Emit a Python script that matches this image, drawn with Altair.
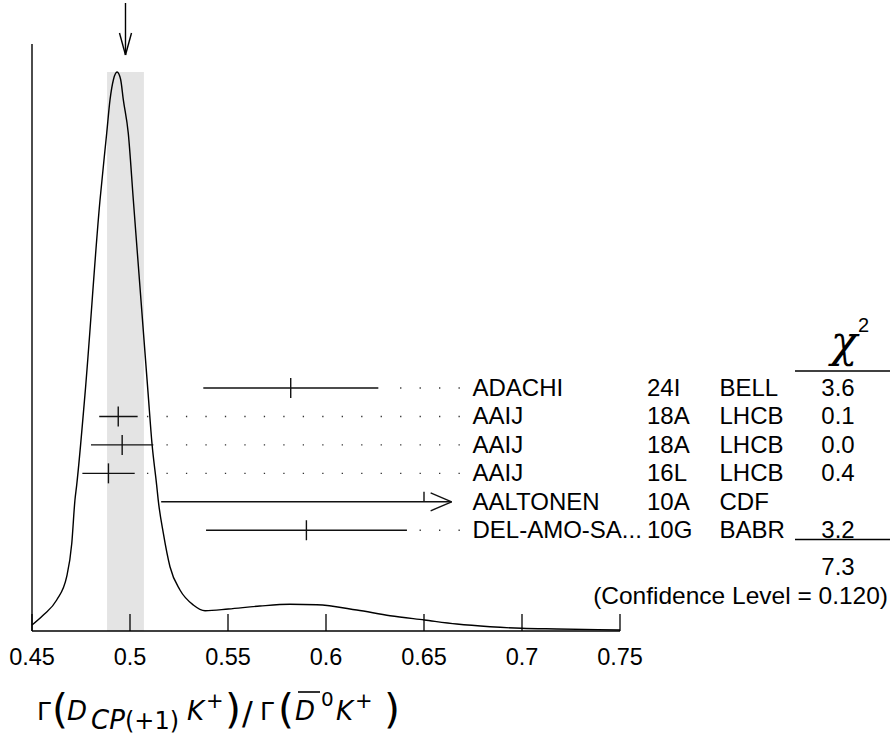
import altair as alt
import pandas as pd

# ---------------- data ----------------
names = ["ADACHI", "AAIJ", "AAIJ", "AAIJ", "AALTONEN", "DEL-AMO-SA..."]
years = ["24I", "18A", "18A", "16L", "10A", "10G"]
expts = ["BELL", "LHCB", "LHCB", "LHCB", "CDF", "BABR"]
values = [0.582, 0.494, 0.496, 0.489, 0.650, 0.590]
lows = [0.5374, 0.4843, 0.4801, 0.4757, 0.5159, 0.5388]
highs = [0.6267, 0.5039, 0.5119, 0.5024, 0.6641, 0.6413]
offscale = [False, False, False, False, True, False]
chi2 = ["3.6", "0.1", "0.0", "0.4", "", "3.2"]
chi2_total = "7.3"
conf_level = "(Confidence Level = 0.120)"

fit_value = 0.4977
fit_error = 0.0094

# ideogram curve (relative height, peak = 1)
ideo_x = [0.4500, 0.4558, 0.4626, 0.4677, 0.4703, 0.4719, 0.4728, 0.4770,
          0.4847, 0.4881, 0.4898, 0.4916, 0.4934, 0.4952, 0.4966, 0.4991,
          0.5017, 0.5093, 0.5112, 0.5136, 0.5144, 0.5170, 0.5204, 0.5255,
          0.5323, 0.5383, 0.5502, 0.5663, 0.5816, 0.5953, 0.6157, 0.6327,
          0.6502, 0.6667, 0.6837, 0.6998, 0.7177, 0.7500]
ideo_y = [0.0107, 0.0286, 0.0555, 0.0971, 0.157, 0.234, 0.261, 0.422,
          0.771, 0.890, 0.950, 0.987, 1.000, 0.987, 0.950, 0.891,
          0.771, 0.422, 0.336, 0.261, 0.234, 0.175, 0.115, 0.0733,
          0.0465, 0.0363, 0.0394, 0.0447, 0.0478, 0.0470, 0.0376, 0.0274,
          0.0197, 0.0125, 0.0077, 0.0048, 0.0036, 0.0018]

tick_values = [0.45, 0.5, 0.55, 0.6, 0.65, 0.7, 0.75]
tick_labels = ["0.45", "0.5", "0.55", "0.6", "0.65", "0.7", "0.75"]

# ---------------- layout (pixels) ----------------
W, H = 890, 734
X_PX0, X_PX1 = 32.0, 620.0      # pixel of 0.45 and of 0.75
Y_BASE, Y_PEAK = 631.0, 72.0    # pixel of zero and of the curve peak
PEAK = max(ideo_y)
ROW0, ROW_STEP = 388.0, 28.45
FONT = "Liberation Sans"
TXT = 24


def xd(px):
    return 0.45 + (px - X_PX0) * 0.30 / (X_PX1 - X_PX0)


def yd(py):
    return (Y_BASE - py) / (Y_BASE - Y_PEAK) * PEAK


DX = 0.30 / (X_PX1 - X_PX0)    # data units per pixel
xs = alt.Scale(domain=[xd(0), xd(W)], nice=False, zero=False)
ys = alt.Scale(domain=[yd(H), yd(0)], nice=False, zero=False)


def X(f):
    return alt.X(f, type="quantitative", scale=xs, axis=None)


def Y(f):
    return alt.Y(f, type="quantitative", scale=ys, axis=None)


# shaded band of the fit
band_df = pd.DataFrame({"x": [fit_value - fit_error], "x2": [fit_value + fit_error],
                        "y": [0.0], "y2": [PEAK]})
band = alt.Chart(band_df).mark_rect(color="#e4e4e4").encode(
    x=X("x"), x2="x2", y=Y("y"), y2="y2")

curve_df = pd.DataFrame({"x": ideo_x, "y": ideo_y})
curve = alt.Chart(curve_df).mark_line(color="black", strokeWidth=1.4,
                                      interpolate="monotone").encode(x=X("x"), y=Y("y"))

# axes
yaxis = alt.Chart(pd.DataFrame({"x": [tick_values[0]], "y": [0.0], "y2": [yd(44)]})).mark_rule(
    color="black", strokeWidth=1.4).encode(x=X("x"), y=Y("y"), y2="y2")
xaxis = alt.Chart(pd.DataFrame({"x": [tick_values[0]], "x2": [tick_values[-1]], "y": [0.0]})).mark_rule(
    color="black", strokeWidth=1.4).encode(x=X("x"), x2="x2", y=Y("y"))
ticks_df = pd.DataFrame({"x": tick_values, "lab": tick_labels, "y": 0.0, "y2": yd(614),
                         "ly": yd(665)})
ticks = alt.Chart(ticks_df).mark_rule(color="black", strokeWidth=1.3).encode(
    x=X("x"), y=Y("y"), y2="y2")
tick_text = alt.Chart(ticks_df).mark_text(font=FONT, fontSize=23.5, baseline="alphabetic",
                                          align="center", color="black").encode(
    x=X("x"), y=Y("ly"), text="lab:N")

# measurements
rows = pd.DataFrame({"name": names, "year": years, "expt": expts, "val": values,
                     "lo": lows, "hi": highs, "off": offscale, "chi": chi2})
rows["py"] = [ROW0 + ROW_STEP * i for i in range(len(rows))]
rows["y"] = rows["py"].map(yd)
rows["ttop"] = (rows["py"] - 10).map(yd)
rows["tbot"] = [yd(p) if o else yd(p + 10) for p, o in zip(rows["py"], rows["off"])]
rows["dot_start"] = xd(459.8)
rows["dot_end"] = rows["hi"] + 8 * DX
rows["xname"] = xd(472.5)
rows["xyear"] = xd(647)
rows["xexp"] = xd(719.5)
rows["xchi"] = xd(838)

bars = alt.Chart(rows).mark_rule(color="#111", strokeWidth=1.4).encode(
    x=X("lo"), x2="hi", y=Y("y"))
cticks = alt.Chart(rows).mark_rule(color="#111", strokeWidth=1.4).encode(
    x=X("val"), y=Y("ttop"), y2="tbot")

off = rows[rows["off"]].copy()
heads = pd.concat([
    off.assign(hx=off["hi"], hx2=off["hi"] - 21 * DX, hy=off["y"], hy2=(off["py"] - 9).map(yd)),
    off.assign(hx=off["hi"], hx2=off["hi"] - 21 * DX, hy=off["y"], hy2=(off["py"] + 9).map(yd)),
])
arrowheads = alt.Chart(heads).mark_rule(color="#111", strokeWidth=1.4).encode(
    x=X("hx"), x2="hx2", y=Y("hy"), y2="hy2")

dots = alt.Chart(rows[~rows["off"]]).mark_rule(
    color="#333", strokeWidth=1.4, strokeDash=[1.3, 18.17], strokeCap="butt").encode(
    x=X("dot_start"), x2="dot_end", y=Y("y"))


def col(field, xf, align="left"):
    return alt.Chart(rows).mark_text(font=FONT, fontSize=TXT, align=align,
                                     baseline="alphabetic", dy=8, color="black").encode(
        x=X(xf), y=Y("y"), text=f"{field}:N")


t_name = col("name", "xname")
t_year = col("year", "xyear")
t_exp = col("expt", "xexp")
t_chi = col("chi", "xchi", "center")


# chi2 header / summary
def prule(x1, x2, py, w=1.3):
    return alt.Chart(pd.DataFrame({"x": [xd(x1)], "x2": [xd(x2)], "y": [yd(py)]})).mark_rule(
        color="black", strokeWidth=w).encode(x=X("x"), x2="x2", y=Y("y"))


def ptext(s, px, py, size, align="left", font=FONT, style="normal"):
    return alt.Chart(pd.DataFrame({"x": [xd(px)], "y": [yd(py)], "t": [s]})).mark_text(
        font=font, fontSize=size, align=align, baseline="alphabetic", fontStyle=style,
        color="black").encode(x=X("x"), y=Y("y"), text="t:N")


chi_head = ptext("χ", 844, 357, 44, "center", "DejaVu Serif", "italic")
chi_sup = ptext("2", 858, 332, 20)
line1 = prule(795, 890, 371)
line2 = prule(795, 890, 539.5)
tot = ptext(chi2_total, 838, 575, TXT, "center")
cl = ptext(conf_level, 888, 604, 24.5, "right")

# arrow marking the fit value
arr_df = pd.DataFrame({"x": [fit_value], "y": [yd(3)], "y2": [yd(55)]})
arrow = alt.Chart(arr_df).mark_rule(color="black", strokeWidth=1.4).encode(
    x=X("x"), y=Y("y"), y2="y2")
ah_df = pd.DataFrame({"x": [fit_value, fit_value], "x2": [fit_value - 6 * DX, fit_value + 6 * DX],
                      "y": [yd(55), yd(55)], "y2": [yd(33), yd(33)]})
arrow_head = alt.Chart(ah_df).mark_rule(color="black", strokeWidth=1.4).encode(
    x=X("x"), x2="x2", y=Y("y"), y2="y2")

# x-axis title pieces
TF = "DejaVu Sans"
title_layers = [
    ptext("Γ", 37, 720, 25, font=TF),
    ptext("(", 52, 723, 41, font=TF),
    ptext("D", 67, 720, 26, font=TF, style="italic"),
    ptext("CP", 91, 729, 26, font=TF, style="italic"),
    ptext("(+1)", 125, 729, 24, font=TF),
    ptext("K", 187, 720, 26, font=TF, style="italic"),
    ptext("+", 206, 708, 21, font=TF),
    ptext(")", 225, 723, 41, font=TF),
    ptext("/", 242, 724, 32, font=TF),
    ptext("Γ", 260, 720, 25, font=TF),
    ptext("(", 278, 723, 41, font=TF),
    ptext("D", 295, 720, 26, font=TF, style="italic"),
    prule(298, 320, 692, 1.6),
    ptext("0", 321, 706, 20, font=TF),
    ptext("K", 336, 720, 26, font=TF, style="italic"),
    ptext("+", 355, 708, 21, font=TF),
    ptext(")", 384, 723, 41, font=TF),
]

chart = alt.layer(
    band, curve, yaxis, xaxis, ticks, tick_text,
    bars, cticks, arrowheads, dots,
    t_name, t_year, t_exp, t_chi,
    chi_head, chi_sup, line1, line2, tot, cl,
    arrow, arrow_head, *title_layers
).properties(
    width=W, height=H, padding=0, autosize=alt.AutoSizeParams(type="none")
).configure_view(stroke=None)

chart.save("out.html", embed_options={"renderer": "svg", "actions": False})
